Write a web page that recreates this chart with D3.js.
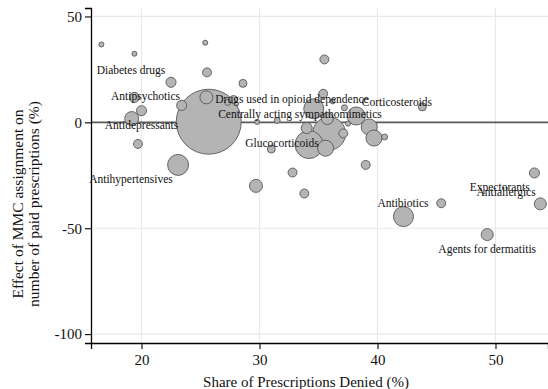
<!DOCTYPE html>
<html>
<head>
<meta charset="utf-8">
<script src="https://cdn.jsdelivr.net/npm/d3@7"></script>
<style>
  html, body { margin: 0; padding: 0; background: #fff; }
  svg { display: block; font-family: "Liberation Serif", "Times New Roman", serif; }
</style>
</head>
<body>
<svg id="chart" width="548" height="389"></svg>
<script>
// Share of prescriptions denied (%) per drug group
const shareDenied = [16.6, 19.4, 25.4, 25.55, 22.5, 28.6, 19.4, 20.0, 19.17, 19.7,
  23.1, 25.7, 25.5, 23.4, 27.8, 27.3, 29.8, 31.5, 31.0, 29.7,
  32.8, 33.8, 35.5, 35.4, 34.6, 35.75, 34.0, 35.9, 34.2, 35.6,
  37.1, 37.5, 37.2, 38.2, 39.3, 39.7, 40.6, 39.0, 42.2, 45.4,
  49.3, 53.3, 53.8, 43.8, 36.2];
// Effect of MMC assignment on number of paid prescriptions (%)
const effect = [36.8, 32.4, 37.6, 23.6, 18.9, 18.4, 11.8, 5.5, 1.8, -10.2,
  -20.1, 0.3, 11.8, 8.0, 10.8, 9.4, 0.2, 0.9, -12.6, -30.0,
  -23.7, -33.6, 29.7, 13.5, 6.4, 1.8, -2.7, -5.3, -10.5, -12.2,
  -5.2, -0.6, 6.9, 3.0, -2.2, -7.4, -6.9, -20.1, -44.5, -38.2,
  -53.0, -23.9, -38.5, 7.3, 9.9];
// Relative prescription volume (bubble area)
const volume = [0.6, 0.6, 0.6, 1.9, 2.4, 1.5, 2.4, 2.4, 4.6, 1.9,
  10.4, 100, 4.0, 2.4, 1.5, 0.85, 0.6, 0.85, 1.5, 4.0,
  1.9, 1.9, 1.9, 1.9, 9.5, 3.4, 2.9, 25.8, 18.6, 6.1,
  1.9, 0.6, 0.85, 7.7, 6.1, 6.1, 0.85, 1.9, 9.5, 1.9,
  3.4, 2.4, 3.4, 1.5, 0.6];

// Drug group labels and where they sit (data units)
const labelNames = ["Diabetes drugs", "Antipsychotics", "Antidepressants", "Antihypertensives",
  "Drugs used in opioid dependence", "Centrally acting sympathomimetics", "Glucocorticoids",
  "Corticosteroids", "Antibiotics", "Agents for dermatitis", "Expectorants", "Antiallergics"];
const labelX = [19.11, 20.34, 20.0, 19.11, 32.75, 33.43, 31.9, 41.65, 42.16, 49.3, 50.36, 50.9];
const labelY = [24.5, 12.3, -1.4, -26.9, 11.0, 3.9, -9.9, 9.6, -38.1, -59.8, -30.3, -32.9];

const xTicks = [20, 30, 40, 50];
const yTicks = [50, 0, -50, -100];

const svg = d3.select("#chart");
const plotLeft = 91, plotRight = 548, plotTop = 8, plotBottom = 343;

const x = d3.scaleLinear().domain([15.72, 54.45]).range([plotLeft, plotRight]);
const y = d3.scaleLinear().domain([-104.2, 54.0]).range([plotBottom, plotTop]);
const r = d3.scaleSqrt().domain([0, 100]).range([0, 32.5]);

// grid lines
svg.append("g").selectAll("line").data(xTicks).join("line")
  .attr("x1", d => x(d)).attr("x2", d => x(d))
  .attr("y1", plotTop).attr("y2", plotBottom)
  .attr("stroke", "#e9e9e9").attr("stroke-width", 1.2);
svg.append("g").selectAll("line").data(yTicks.filter(d => d !== 0)).join("line")
  .attr("x1", plotLeft).attr("x2", plotRight)
  .attr("y1", d => y(d)).attr("y2", d => y(d))
  .attr("stroke", "#e9e9e9").attr("stroke-width", 1.2);

// reference line at zero
svg.append("line")
  .attr("x1", plotLeft).attr("x2", plotRight)
  .attr("y1", y(0)).attr("y2", y(0))
  .attr("stroke", "#5a5a5a").attr("stroke-width", 1.6);

// bubbles, largest first so smaller ones stay visible
const points = shareDenied.map((v, i) => ({ x: v, y: effect[i], w: volume[i] }))
  .sort((a, b) => b.w - a.w);
svg.append("g").selectAll("circle").data(points).join("circle")
  .attr("cx", d => x(d.x)).attr("cy", d => y(d.y)).attr("r", d => r(d.w))
  .attr("fill", "#b4b4b4").attr("stroke", "#585858").attr("stroke-width", 0.9);

// axes
const xAxis = svg.append("g").attr("transform", `translate(0,${plotBottom})`)
  .call(d3.axisBottom(x).tickValues(xTicks).tickSize(6).tickPadding(5).tickFormat(d3.format("d")));
const yAxis = svg.append("g").attr("transform", `translate(${plotLeft},0)`)
  .call(d3.axisLeft(y).tickValues(yTicks).tickSize(6).tickPadding(3).tickFormat(d3.format("d")));
[xAxis, yAxis].forEach(g => {
  g.select(".domain").attr("stroke", "#000").attr("stroke-width", 1.3);
  g.selectAll(".tick line").attr("stroke", "#000").attr("stroke-width", 1.1);
  g.selectAll(".tick text").attr("fill", "#111")
    .style("font-family", "Liberation Serif").style("font-size", "15px");
});
yAxis.selectAll(".tick text").text(d => d < 0 ? "-" + Math.abs(d) : d);

// labels
svg.append("g").selectAll("text").data(labelNames).join("text")
  .attr("x", (d, i) => x(labelX[i])).attr("y", (d, i) => y(labelY[i]))
  .attr("text-anchor", "middle").attr("dominant-baseline", "central")
  .style("font-size", "11.5px").attr("fill", "#111")
  .text(d => d);

// axis titles
svg.append("text")
  .attr("x", 306).attr("y", 381.5)
  .attr("text-anchor", "middle").attr("dominant-baseline", "central")
  .style("font-size", "15px").attr("fill", "#111")
  .text("Share of Prescriptions Denied (%)");
const yt = svg.append("text")
  .attr("transform", "translate(0,204) rotate(-90)")
  .attr("text-anchor", "middle").style("font-size", "15.5px").attr("fill", "#111");
yt.append("tspan").attr("x", 0).attr("y", 17).attr("dominant-baseline", "central")
  .text("Effect of MMC assignment on");
yt.append("tspan").attr("x", 0).attr("y", 33).attr("dominant-baseline", "central")
  .text("number of paid prescriptions (%)");
</script>
</body>
</html>
